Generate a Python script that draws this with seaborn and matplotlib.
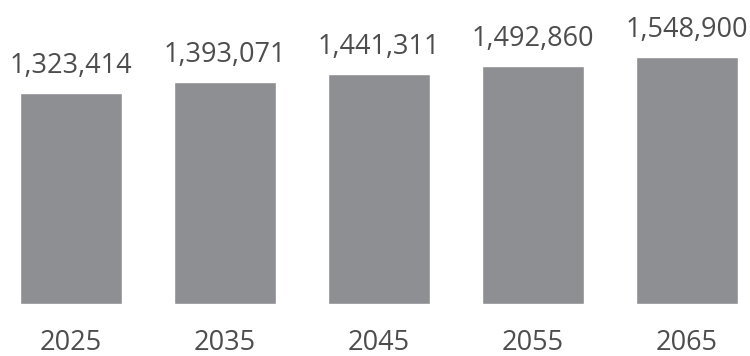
import matplotlib
matplotlib.use("Agg")
import matplotlib.pyplot as plt
import seaborn as sns
import pandas as pd

years = ["2025", "2035", "2045", "2055", "2065"]
population = [1323414, 1393071, 1441311, 1492860, 1548900]

sns.set_style("white")
plt.rcParams["font.family"] = ["Open Sans", "DejaVu Sans"]

df = pd.DataFrame({"year": years, "population": population})

fig = plt.figure(figsize=(7.5, 3.56), dpi=100)
ax = fig.add_axes([0, 52 / 356, 1, 304 / 356])

sns.barplot(data=df, x="year", y="population", order=years, color="#8e8f93",
            saturation=1, width=0.662, ax=ax)

for i, v in enumerate(population):
    ax.annotate(f"{v:,}", xy=(i, v), xytext=(0, 14.5), textcoords="offset points",
                ha="center", va="baseline", fontsize=19.5, color="#4d4d4d")

ax.set_xlim(-71 / 154, 4 + 63 / 154)
ax.set_ylim(0, 1907000)
ax.set_xlabel("")
ax.set_ylabel("")
ax.set_yticks([])
ax.tick_params(axis="x", length=0, pad=18, labelsize=19.5, labelcolor="#4d4d4d")
for s in ax.spines.values():
    s.set_visible(False)

fig.savefig("out.png", dpi=100)
